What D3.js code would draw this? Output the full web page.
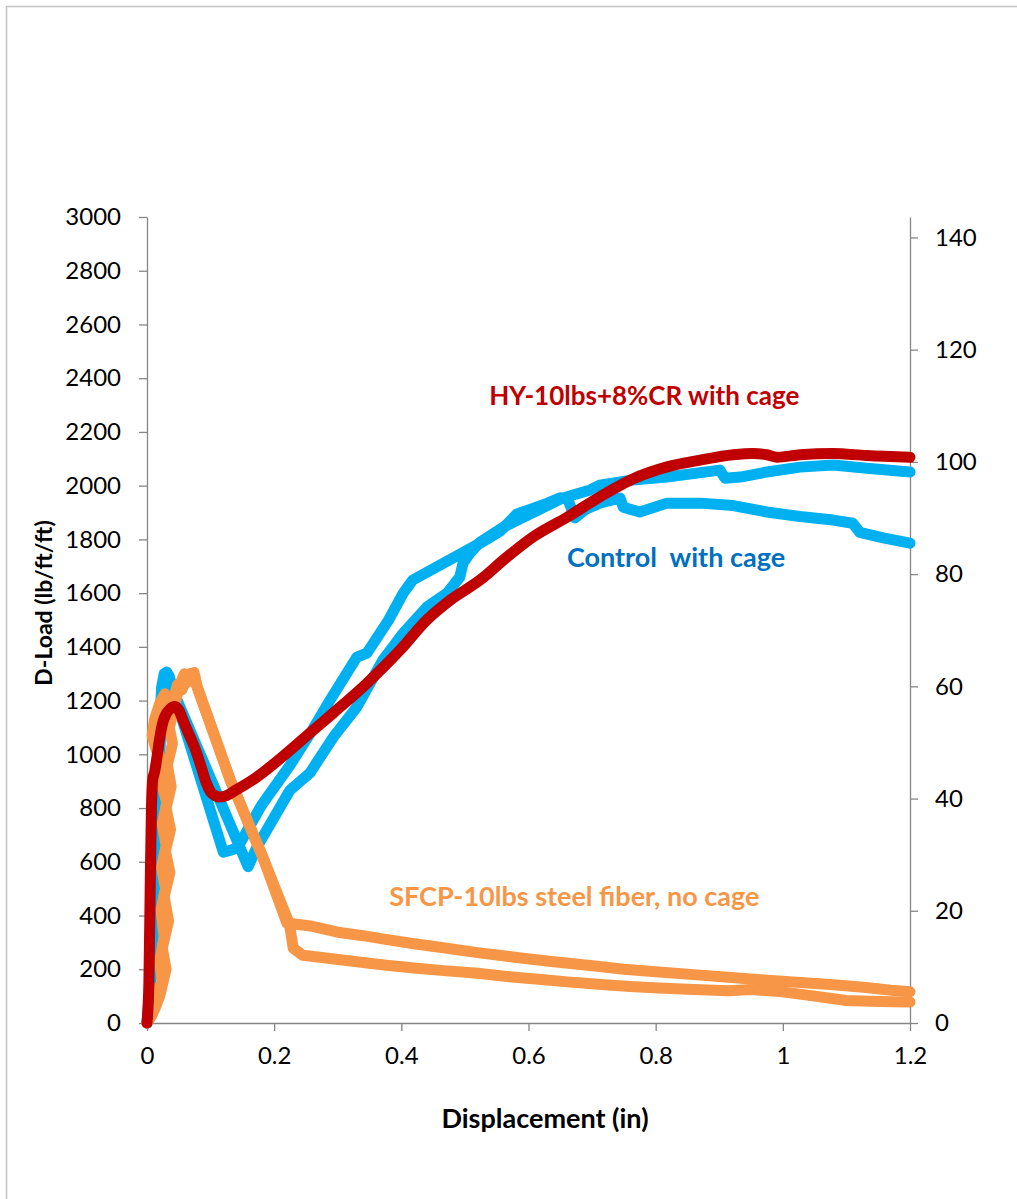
<!DOCTYPE html>
<html>
<head>
<meta charset="utf-8">
<script src="https://cdn.jsdelivr.net/npm/d3@7"></script>
<style>
  html, body { margin: 0; padding: 0; background: #fff; }
  svg { display: block; }
  text { font-family: Lato, "Open Sans", sans-serif; }
</style>
</head>
<body>
<svg id="chart" width="1017" height="1199"></svg>
<script>
// Three-edge bearing test: D-load versus displacement, two specimens per mix.
const xTicks = [0, 0.2, 0.4, 0.6, 0.8, 1, 1.2];
const yTicksLeft = d3.range(0, 3001, 200);          // lb/ft/ft
const yTicksRight = [0, 20, 40, 60, 80, 100, 120, 140]; // kN/m/m
const LB_FT_FT_TO_KN_M_M = 0.04788;

// Control with cage, specimen 1  [displacement (in), D-load (lb/ft/ft)]
const controlA = [
  [0,0],[0.005,150],[0.01,420],[0.014,700],[0.017,920],[0.02,1110],[0.023,1250],
  [0.027,1300],[0.031,1306],[0.035,1290],[0.041,1239],[0.12,636],[0.13,642],
  [0.142,651],[0.18,810],[0.225,960],[0.26,1090],[0.288,1202],[0.33,1362],
  [0.346,1377],[0.38,1500],[0.403,1600],[0.418,1649],[0.524,1786],[0.555,1830],
  [0.582,1895],[0.607,1915],[0.63,1935],[0.65,1955],[0.662,1948],[0.673,1880],
  [0.69,1912],[0.712,1935],[0.744,1954],[0.749,1920],[0.775,1902],[0.818,1935],
  [0.87,1935],[0.922,1926],[0.975,1902],[1.027,1885],[1.079,1872],[1.11,1860],
  [1.121,1826],[1.158,1806],[1.2,1786]
];

// Control with cage, specimen 2
const controlB = [
  [0,0],[0.008,200],[0.013,500],[0.017,800],[0.021,1050],[0.025,1200],[0.03,1262],
  [0.036,1250],[0.045,1215],[0.052,1176],[0.159,582],[0.173,655],[0.182,692],
  [0.225,867],[0.256,930],[0.293,1064],[0.33,1176],[0.371,1351],[0.403,1451],
  [0.44,1548],[0.472,1600],[0.492,1660],[0.497,1712],[0.508,1749],[0.524,1790],
  [0.56,1845],[0.59,1880],[0.62,1915],[0.65,1950],[0.67,1965],[0.697,1984],
  [0.712,2002],[0.764,2021],[0.818,2032],[0.901,2058],[0.909,2028],[0.933,2032],
  [0.975,2051],[1.027,2069],[1.079,2077],[1.132,2065],[1.2,2051]
];

// SFCP-10lbs steel fiber, no cage, specimen 1
const sfcpA = [
  [0,0],[0.008,30],[0.014,90],[0.018,130],[0.024,150],[0.02,230],[0.027,320],
  [0.022,420],[0.029,500],[0.023,580],[0.03,660],[0.024,740],[0.031,820],
  [0.022,900],[0.026,960],[0.014,1020],[0.008,1070],[0.012,1130],[0.02,1190],
  [0.028,1225],[0.035,1180],[0.042,1210],[0.048,1260],[0.055,1240],[0.062,1285],
  [0.068,1300],[0.075,1290],[0.079,1250],[0.131,904],[0.182,618],
  [0.22,372],[0.26,360],[0.3,338],[0.34,325],[0.373,312],[0.42,295],[0.466,280],
  [0.52,262],[0.588,242],[0.64,228],[0.697,214],[0.75,200],[0.805,190],[0.86,180],
  [0.914,170],[0.97,160],[1.022,152],[1.08,142],[1.131,132],[1.17,122],[1.2,116]
];

// SFCP-10lbs steel fiber, no cage, specimen 2
const sfcpB = [
  [0,0],[0.012,50],[0.02,100],[0.03,200],[0.024,280],[0.034,380],[0.027,470],
  [0.036,560],[0.029,640],[0.037,720],[0.03,800],[0.038,880],[0.032,960],
  [0.04,1040],[0.035,1100],[0.042,1160],[0.046,1210],[0.05,1240],[0.055,1280],
  [0.059,1300],[0.064,1268],[0.069,1292],[0.074,1305],[0.079,1250],[0.131,904],
  [0.182,618],[0.224,368],[0.23,278],[0.245,252],
  [0.288,240],[0.33,228],[0.373,216],[0.42,205],[0.466,195],[0.516,186],
  [0.57,172],[0.62,162],[0.661,153],[0.72,142],[0.76,136],[0.805,130],[0.86,125],
  [0.914,120],[0.95,125],[1.0,116],[1.05,100],[1.1,84],[1.15,80],[1.2,78]
];

// HY-10lbs+8%CR with cage
const hybrid = [
  [0,0],[0.003,150],[0.005,500],[0.007,800],[0.009,905],[0.012,935],[0.016,995],
  [0.02,1060],[0.025,1120],[0.03,1150],[0.036,1168],[0.044,1178],[0.05,1165],
  [0.057,1125],[0.065,1080],[0.075,1025],[0.085,955],[0.093,895],[0.1,860],
  [0.108,845],[0.115,841],[0.125,846],[0.135,860],[0.173,916],[0.22,1005],
  [0.256,1079],[0.293,1154],[0.346,1265],[0.398,1388],[0.44,1500],[0.477,1574],
  [0.524,1649],[0.566,1734],[0.607,1809],[0.661,1883],[0.712,1958],[0.764,2025],
  [0.818,2070],[0.87,2095],[0.922,2115],[0.953,2120],[0.975,2115],[0.991,2106],
  [1.027,2115],[1.079,2120],[1.132,2112],[1.2,2106]
];

const series = [
  { data: controlA, color: "#00b0f0" },
  { data: controlB, color: "#00b0f0" },
  { data: sfcpA, color: "#f79646" },
  { data: sfcpB, color: "#f79646" },
  { data: hybrid, color: "#c00000", smooth: true }
];

const labels = [
  { text: "HY-10lbs+8%CR with cage", x: 0.782, y: 2337, color: "#c00000", size: 26 },
  { text: "Control  with cage", x: 0.832, y: 1738, color: "#0070c0", size: 27 },
  { text: "SFCP-10lbs steel fiber, no cage", x: 0.672, y: 473, color: "#f79646", size: 27 }
];

const svg = d3.select("#chart");
const plot = { left: 147, right: 910, top: 217, bottom: 1023 };

const x = d3.scaleLinear().domain([0, 1.2]).range([plot.left, plot.right]);
const yL = d3.scaleLinear().domain([0, 3000]).range([plot.bottom, plot.top]);
const yR = d3.scaleLinear().domain([0, 3000 * LB_FT_FT_TO_KN_M_M]).range([plot.bottom, plot.top]);

// outer chart frame
svg.append("path")
  .attr("d", "M6.5,1199 L6.5,6.5 L1017,6.5")
  .attr("fill", "none").attr("stroke", "#c4c4c4").attr("stroke-width", 1.6);

const axisColor = "#868686";
function styleAxis(g) {
  g.select(".domain").attr("stroke", axisColor).attr("stroke-width", 1.3);
  g.selectAll(".tick line").attr("stroke", axisColor).attr("stroke-width", 1.3);
  g.selectAll(".tick text").attr("fill", "#000").attr("font-size", 24)
    .attr("font-family", "Lato, sans-serif");
}

svg.append("g").attr("transform", `translate(0,${plot.bottom})`)
  .call(d3.axisBottom(x).tickValues(xTicks).tickFormat(d3.format("~g"))
    .tickSizeInner(8).tickSizeOuter(0).tickPadding(16))
  .call(styleAxis);

svg.append("g").attr("transform", `translate(${plot.left},0)`)
  .call(d3.axisLeft(yL).tickValues(yTicksLeft).tickFormat(d3.format("d"))
    .tickSizeInner(8).tickSizeOuter(0).tickPadding(18))
  .call(styleAxis);

svg.append("g").attr("transform", `translate(${plot.right},0)`)
  .call(d3.axisRight(yR).tickValues(yTicksRight).tickFormat(d3.format("d"))
    .tickSizeInner(8).tickSizeOuter(0).tickPadding(17))
  .call(styleAxis);

// data curves
const lineLinear = d3.line().x(d => x(d[0])).y(d => yL(d[1]));
const lineSmooth = d3.line().x(d => x(d[0])).y(d => yL(d[1])).curve(d3.curveMonotoneX);

svg.append("g").selectAll("path").data(series).join("path")
  .attr("d", s => (s.smooth ? lineSmooth : lineLinear)(s.data))
  .attr("fill", "none")
  .attr("stroke", s => s.color)
  .attr("stroke-width", 11)
  .attr("stroke-linejoin", "round")
  .attr("stroke-linecap", "round");

// series annotations
svg.append("g").selectAll("text").data(labels).join("text")
  .attr("x", d => x(d.x)).attr("y", d => yL(d.y))
  .attr("text-anchor", "middle").attr("dominant-baseline", "central")
  .attr("font-size", d => d.size).attr("font-weight", "bold")
  .attr("fill", d => d.color)
  .style("white-space", "pre")
  .text(d => d.text);

// axis titles
svg.append("text")
  .attr("x", 545).attr("y", 1117)
  .attr("text-anchor", "middle").attr("dominant-baseline", "central")
  .attr("font-size", 27).attr("font-weight", "bold").attr("fill", "#000")
  .text("Displacement (in)");

svg.append("text")
  .attr("transform", "translate(43,603) rotate(-90)")
  .attr("text-anchor", "middle").attr("dominant-baseline", "central")
  .attr("font-size", 23).attr("font-weight", "bold").attr("fill", "#000")
  .text("D-Load (lb/ft/ft)");
</script>
</body>
</html>
